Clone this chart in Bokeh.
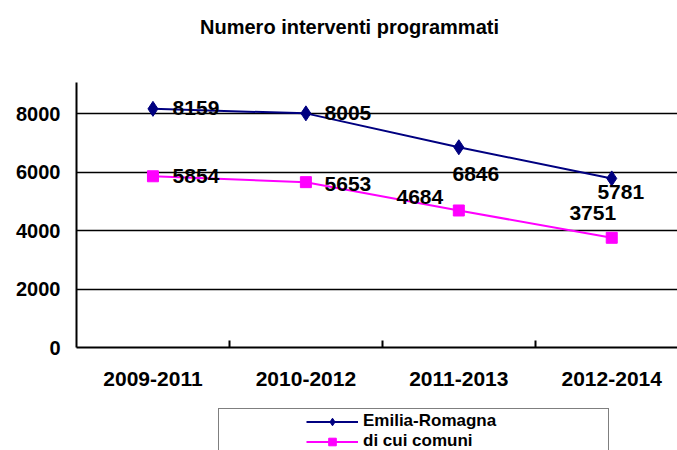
from bokeh.plotting import figure
from bokeh.layouts import column
from bokeh.models import Range1d, FixedTicker, Legend, LegendItem, ColumnDataSource, Label
from bokeh.core.properties import value
from bokeh.embed import file_html
from bokeh.resources import INLINE

# ---- data ----
periods = ["2009-2011", "2010-2012", "2011-2013", "2012-2014"]
emilia = [8159, 8005, 6846, 5781]
comuni = [5854, 5653, 4684, 3751]
y_ticks = [0, 2000, 4000, 6000, 8000]
title_text = "Numero interventi programmati"
series_names = ["Emilia-Romagna", "di cui comuni"]

# ---- styles ----
FONT = value("Liberation Sans")
navy = "#000080"
magenta = "#FF00FF"
emilia_dx = [43, 42, 17, 9]
emilia_dy = [-1, 0, 27, 14]
comuni_dx = [43, 42, -39, -19]
comuni_dy = [0, 2, -13, -25]

xs = [i + 0.5 for i in range(len(periods))]

def strip(h):
    f = figure(width=677, height=h, output_backend="svg", toolbar_location=None,
               x_range=Range1d(0, 1), y_range=Range1d(0, 1),
               min_border_left=0, min_border_right=0, min_border_top=0,
               min_border_bottom=0)
    f.axis.visible = False
    f.grid.visible = False
    f.outline_line_color = None
    return f

# ---- title strip ----
p0 = strip(40)
p0.add_layout(Label(x=273, y=14, x_units="screen", y_units="screen", text=title_text,
                    text_font="Liberation Sans", text_font_style="bold",
                    text_font_size="20px", text_align="center",
                    text_baseline="middle", text_color="black"))

# ---- main chart ----
p = figure(width=677, height=360, output_backend="svg", toolbar_location=None,
           x_range=Range1d(0, 3.93), y_range=Range1d(0, 9060),
           min_border_left=76, min_border_right=0, min_border_top=42,
           min_border_bottom=53)
p.outline_line_color = None

xa = p.xaxis[0]
xa.ticker = FixedTicker(ticks=xs, minor_ticks=[1, 2, 3])
xa.major_label_overrides = {x: lab for x, lab in zip(xs, periods)}
xa.major_tick_out = 0
xa.major_tick_in = 0
xa.minor_tick_in = 7
xa.minor_tick_out = 0
xa.minor_tick_line_color = "black"
xa.minor_tick_line_width = 2
xa.axis_line_color = "black"
xa.axis_line_width = 2
xa.major_label_standoff = 24
xa.major_label_text_font = "Liberation Sans"
xa.major_label_text_font_style = "bold"
xa.major_label_text_font_size = "21px"
xa.major_label_text_color = "black"

ya = p.yaxis[0]
ya.ticker = FixedTicker(ticks=y_ticks)
ya.major_tick_out = 0
ya.major_tick_in = 0
ya.minor_tick_line_color = None
ya.axis_line_color = "black"
ya.axis_line_width = 2
ya.major_label_standoff = 16
ya.major_label_text_font = "Liberation Sans"
ya.major_label_text_font_style = "bold"
ya.major_label_text_font_size = "20px"
ya.major_label_text_color = "black"

p.xgrid.grid_line_color = None
p.ygrid.ticker = FixedTicker(ticks=y_ticks[1:])
p.ygrid.grid_line_color = "black"
p.ygrid.grid_line_width = 1.5

src_e = ColumnDataSource(dict(x=xs, y=emilia, t=[str(v) for v in emilia], dx=emilia_dx, dy=emilia_dy))
src_c = ColumnDataSource(dict(x=xs, y=comuni, t=[str(v) for v in comuni], dx=comuni_dx, dy=comuni_dy))

p.line("x", "y", source=src_e, line_color=navy, line_width=2)
p.scatter("x", "y", source=src_e, marker="diamond", size=15, fill_color=navy, line_color=navy)
p.line("x", "y", source=src_c, line_color=magenta, line_width=2)
p.scatter("x", "y", source=src_c, marker="square", size=11, fill_color=magenta, line_color=magenta)

for src in (src_e, src_c):
    p.text("x", "y", text="t", source=src, x_offset="dx", y_offset="dy",
           text_font=FONT, text_font_style="bold", text_font_size="21px",
           text_align="center", text_baseline="middle", text_color="black")

# ---- legend strip ----
p2 = strip(50)
# same series drawn in a strip whose ranges keep them off-screen; used only for the legend glyphs
le = p2.line("x", "y", source=src_e, line_color=navy, line_width=2)
me = p2.scatter("x", "y", source=src_e, marker="diamond", size=13, fill_color=navy, line_color=navy)
lc = p2.line("x", "y", source=src_c, line_color=magenta, line_width=2)
mc = p2.scatter("x", "y", source=src_c, marker="square", size=10, fill_color=magenta, line_color=magenta)

legend = Legend(items=[LegendItem(label=series_names[0], renderers=[le, me]),
                       LegendItem(label=series_names[1], renderers=[lc, mc])],
                orientation="vertical", location=(142, -4), margin=0, padding=2,
                spacing=0, glyph_width=52, glyph_height=19, label_height=19,
                label_width=243, label_standoff=5,
                title=" ", title_location="left", title_standoff=80,
                title_text_font_size="4px",
                label_text_font="Liberation Sans", label_text_font_style="bold",
                label_text_font_size="17px", label_text_color="black",
                border_line_color="black", border_line_width=1.5,
                background_fill_color="white")
p2.add_layout(legend, "center")

open("out.html", "w").write(file_html(column(p0, p, p2, spacing=0), INLINE))
